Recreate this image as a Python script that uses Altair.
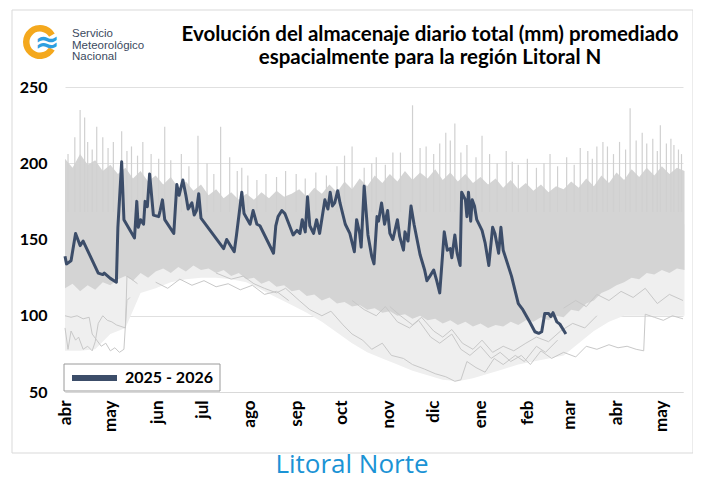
import altair as alt
import pandas as pd

# ---------------- data ----------------
months = ["abr", "may", "jun", "jul", "ago", "sep", "oct", "nov", "dic", "ene", "feb", "mar", "abr", "may"]
month_start = [0, 30, 61, 91, 122, 153, 183, 214, 244, 275, 306, 334, 365, 395]
y_ticks = [50, 100, 150, 200, 250]
series_name = ["2025 - 2026"]

title_lines = ["Evolución del almacenaje diario total (mm) promediado",
               "espacialmente para la región Litoral N"]
logo_lines = ["Servicio", "Meteorológico", "Nacional"]
region_label = "Litoral Norte"

# current season 2025-2026 (day 0 = 1 abr)
blue_day = [0, 1, 4, 7, 10, 12, 22, 25, 26, 30,
            34, 35, 37.5, 39, 46, 47.5, 48.5, 50, 52, 53,
            54.5, 56, 58.5, 62, 63, 64.5, 66, 72, 74, 75.5,
            77, 78, 80, 81.5, 84, 85.5, 87, 88.5, 90, 105,
            107, 112, 113.5, 117, 118.5, 122.5, 124.5, 127, 129, 138,
            139.5, 141, 143.5, 145.5, 151, 153.5, 155.5, 157, 159, 160.5,
            162, 164.5, 166.5, 168.5, 172, 174, 175.5, 177, 178.5, 180.5,
            182, 185.5, 188.5, 191.5, 193, 195, 196, 198, 200.5, 203,
            204.5, 206.5, 207.5, 209.5, 211.5, 213.5, 215, 217, 220, 221.5,
            224, 225, 227, 229, 231, 235, 238, 239.5, 241.5, 244,
            246, 248, 251, 253, 255, 256, 258, 259.5, 261.5, 262.5,
            265, 266, 267, 268.5, 269.5, 271, 272.5, 276, 278, 280.5,
            283, 284.5, 287, 288.5, 290, 295.5, 300, 303, 307.5, 311,
            313.5, 315.5, 317.5, 320, 321.5, 323, 325.5, 327.5, 331.5]
blue_val = [139, 134, 136, 154, 146, 149, 128, 127, 128, 124.5,
            122, 158, 201, 163, 151, 175, 158, 163, 160, 175,
            171.5, 193, 166, 165, 169, 176, 163, 154, 186, 179,
            185, 189, 179, 170, 174, 166, 169, 180, 164, 144,
            150, 142, 153, 181, 167, 160, 169, 160, 159, 141,
            159, 165, 169, 167, 153, 156, 154, 163, 155, 178,
            159, 154, 163, 154, 176, 170, 181, 172, 174, 182,
            174, 160, 154, 142, 163, 154, 145, 185, 153, 139,
            134, 165, 162, 174, 160, 169, 154, 150, 163, 152,
            143, 155, 149, 172, 160, 140, 130, 123, 126, 130,
            123, 115, 155, 143, 144, 138, 153, 141, 133, 181,
            176, 165, 181, 162, 176, 172, 163, 156, 148, 133,
            158, 154, 141, 158, 143, 126, 108, 104, 96, 89.5,
            88.5, 89.5, 101.5, 101.5, 99.5, 102, 96, 94.5, 88]

# dense band of historical years (every 5 days)
core_day = list(range(0, 411, 5))
core_hi = [203, 197, 206, 199, 202, 195,
           199, 193, 197, 190, 195, 188, 192,
           186, 191, 184, 188, 182, 186,
           179, 183, 177, 181, 176, 180,
           176, 181, 177, 182, 178, 180,
           183, 178, 184, 180, 186, 181,
           188, 183, 190, 185, 192, 187,
           193, 188, 195, 189, 194, 190,
           196, 189, 194, 188, 193, 187,
           191, 186, 190, 184, 189, 183, 187,
           182, 186, 181, 185, 183,
           188, 184, 190, 185, 192, 187,
           194, 189, 196, 191, 197, 192,
           198, 193, 197, 195]
core_lo = [118, 121, 116, 120, 117, 122,
           120, 124, 126, 123, 128, 125, 129,
           131, 128, 132, 129, 133, 130,
           131, 128, 130, 126, 128, 124,
           125, 121, 123, 119, 120, 116,
           117, 113, 114, 110, 112, 108,
           109, 106, 107, 104, 105, 102,
           103, 100, 101, 98, 100, 97,
           98, 95, 97, 94, 96, 93,
           95, 92, 94, 93, 96, 94, 97,
           96, 99, 97, 100, 99,
           104, 103, 108, 110, 115, 117,
           120, 122, 125, 124, 128, 127,
           130, 128, 131, 130]

# lowest historical values (every 10 days)
outer_day = list(range(0, 411, 10))
outer_lo = [77, 77, 78, 88, 92, 115, 118, 122, 124, 125,
            125, 124, 122, 117, 112, 107, 102, 96, 89, 82,
            76, 72, 68, 64, 61, 58, 57, 59, 62, 65,
            68, 70, 72, 74, 82, 90, 96, 100, 100, 100,
            100, 100]

# short storm peaks of individual years
spike_day = [2, 6.5, 10, 13, 15, 18, 21, 25, 28.5, 32, 37.5, 41, 44, 48, 51.5, 57, 62, 66, 70, 77,
             82, 88, 94, 98.5, 103, 109, 114, 117, 121, 127, 133, 140, 146, 153, 159, 166, 173, 180,
             185, 190, 198, 203, 206, 212, 217, 222, 230, 235, 239, 244, 248, 252, 255, 258, 262,
             266, 272, 276, 281, 286, 292, 296, 300, 306, 312, 317, 321, 326, 332, 337, 341, 346,
             349, 352, 356, 359, 363, 367, 371, 374, 378, 382, 385, 389, 392, 394, 398, 401, 403,
             406, 408]
spike_top = [206, 217, 235, 230, 214, 209, 224, 217, 210, 214, 221, 208, 211, 205, 214, 206, 203, 224, 202, 206,
             198, 218, 200, 193, 224, 204, 195, 197, 192, 189, 193, 191, 195, 193, 190, 194, 192, 198,
             205, 211, 197, 200, 204, 199, 207, 207, 238, 210, 211, 206, 213, 220, 215, 226, 207,
             212, 204, 218, 206, 200, 208, 201, 199, 203, 197, 200, 206, 198, 204, 199, 210, 208,
             203, 211, 214, 211, 206, 214, 209, 236, 215, 220, 213, 216, 208, 225, 213, 216, 212,
             209, 206]

# individual dry years below the band
dry1_day = [0, 2, 4, 7, 9, 12, 15, 18, 20, 22, 25, 28, 31, 34, 37, 40, 41, 44, 48]
dry1_val = [92, 78, 90, 84, 86, 78, 80, 77, 83, 95, 100, 97, 96, 94, 93, 92, 126, 124, 121]
dry2_day = [0, 4, 8, 12, 16, 18, 21, 24, 27, 30, 33, 36, 39, 41, 43]
dry2_val = [100, 99, 100, 98, 99, 88, 84, 80, 82, 77, 79, 76, 78, 110, 112]
dry3_day = [100, 110, 118, 125, 132, 140, 146, 155, 162, 170, 176, 184, 190, 197, 203, 210, 216,
            224, 230, 238, 245, 252, 258, 262, 266, 272, 278, 284, 290, 298, 304, 312, 318, 326]
dry3_val = [128, 124, 126, 121, 118, 115, 118, 110, 104, 100, 103, 94, 88, 84, 78, 82, 74,
            72, 68, 65, 62, 60, 57, 58, 70, 66, 63, 72, 68, 74, 70, 80, 76, 84]
dry4_day = [190, 198, 206, 212, 220, 228, 234, 242, 248, 256, 262, 268, 275, 282, 288, 295, 302,
            308, 315, 322, 330, 338, 345, 352, 360, 366, 372, 378, 383, 384, 390, 396, 402, 409]
dry4_val = [110, 104, 100, 106, 96, 92, 97, 86, 82, 88, 78, 74, 80, 72, 76, 70, 74,
            68, 77, 72, 76, 73, 80, 78, 81, 79, 80, 78, 77, 101, 99, 97, 100, 98]
dry5_day = [215, 222, 230, 236, 244, 250, 256, 263, 270, 276, 283, 290, 297, 305, 312, 320, 328, 336, 344, 352]
dry5_val = [106, 100, 94, 99, 90, 86, 91, 82, 78, 84, 76, 80, 77, 82, 86, 83, 90, 95, 92, 100]
dry6_day = [330, 338, 345, 352, 360, 368, 376, 384, 392, 400, 409]
dry6_val = [105, 110, 106, 114, 110, 116, 112, 118, 108, 114, 110]
dry7_day = [60, 68, 76, 84, 92, 100, 108, 116, 124, 132, 140, 148]
dry7_val = [122, 118, 124, 120, 123, 119, 121, 117, 120, 114, 116, 110]

# ---------------- frames ----------------
blue_df = pd.DataFrame({"day": blue_day, "val": blue_val, "serie": series_name[0]})
core_df = pd.DataFrame({"day": core_day, "lo": core_lo, "hi": core_hi})
outer_df = pd.DataFrame({"day": outer_day, "lo": outer_lo})
spike_df = pd.DataFrame({"day": spike_day, "top": spike_top})
dry_parts = []
for i, (d, v) in enumerate([(dry1_day, dry1_val), (dry2_day, dry2_val), (dry3_day, dry3_val),
                            (dry4_day, dry4_val), (dry5_day, dry5_val), (dry6_day, dry6_val),
                            (dry7_day, dry7_val)]):
    dry_parts.append(pd.DataFrame({"day": d, "val": v, "id": i}))
dry_df = pd.concat(dry_parts, ignore_index=True)
one = pd.DataFrame({"k": [0]})

# ---------------- scales / axes ----------------
BOLD = "Lato"
xs = alt.Scale(domain=[0, 409], nice=False, zero=False)
ys = alt.Scale(domain=[50, 250], nice=False, zero=False)
label_expr = "%s[indexof(%s, datum.value)]" % (str(months), str(month_start))
x_axis = alt.Axis(values=month_start, labelExpr=label_expr, labelAngle=270, labelAlign="right",
                  labelBaseline="middle", labelPadding=8, labelFont=BOLD, labelFontWeight="bold",
                  labelFontSize=17, labelColor="black", ticks=False, grid=False,
                  domainColor="#d9d9d9", title=None, labelOverlap=False)
y_axis = alt.Axis(values=y_ticks, grid=True, gridColor="#e0e0e0", domain=False, ticks=False,
                  labelPadding=18, labelFont=BOLD, labelFontWeight="bold", labelFontSize=16,
                  labelColor="black", title=None)

GREY = "#d4d4d4"
BLUE = "#3c4d69"

border = alt.Chart(one).mark_rect(fillOpacity=0, stroke="#d9d9d9", strokeWidth=1).encode(
    x=alt.value(-53), x2=alt.value(628), y=alt.value(-77), y2=alt.value(366))

outer = alt.Chart(outer_df).mark_area(color="#efefef").encode(
    x=alt.X("day:Q", scale=xs, axis=x_axis),
    y=alt.Y("lo:Q", scale=ys, axis=y_axis),
    y2=alt.datum(160))

core = alt.Chart(core_df).mark_area(color=GREY).encode(
    x=alt.X("day:Q", scale=xs), y=alt.Y("lo:Q", scale=ys), y2="hi:Q")

spikes = alt.Chart(spike_df).mark_rule(color="#d0d0d0", strokeWidth=1.2).encode(
    x=alt.X("day:Q", scale=xs), y=alt.Y("top:Q", scale=ys), y2=alt.datum(168))

dry = alt.Chart(dry_df).mark_line(color="#c8c8c8", strokeWidth=1).encode(
    x=alt.X("day:Q", scale=xs), y=alt.Y("val:Q", scale=ys), detail="id:N")

blue = alt.Chart(blue_df).mark_line(color=BLUE, strokeWidth=3, strokeJoin="round").encode(
    x=alt.X("day:Q", scale=xs), y=alt.Y("val:Q", scale=ys))

leg_box = alt.Chart(one).mark_rect(fill="white", stroke="#9a9a9a", strokeWidth=1).encode(
    x=alt.value(-1), x2=alt.value(155), y=alt.value(277), y2=alt.value(304))
leg_sw = alt.Chart(one).mark_rule(color=BLUE, strokeWidth=6).encode(
    x=alt.value(7), x2=alt.value(52), y=alt.value(291))
leg_tx = alt.Chart(one).mark_text(align="left", baseline="middle", font=BOLD, fontWeight="bold",
                                  fontSize=16, color="black").encode(
    x=alt.value(60), y=alt.value(291), text=alt.value(series_name[0]))

ring = alt.Chart(one).mark_arc(radius=17, radius2=10.5, theta=2.1, theta2=7.33, color="#f4a81d").encode(
    x=alt.value(-25), y=alt.value(-45))
waves = alt.Chart(one).mark_text(align="center", baseline="middle", font="DejaVu Sans",
                                 fontWeight="bold", fontSize=30, color="#2f9fe0").encode(
    x=alt.value(-18), y=alt.value(-44), text=alt.value("≈"))
logo_layers = []
for j, line in enumerate(logo_lines):
    logo_layers.append(
        alt.Chart(one).mark_text(align="left", baseline="alphabetic", font="Liberation Sans",
                                 fontSize=11.5, color="#3b4a5e").encode(
            x=alt.value(7), y=alt.value(-50 + 11.5 * j), text=alt.value(line)))

title_layers = []
for j, line in enumerate(title_lines):
    title_layers.append(
        alt.Chart(one).mark_text(align="center", baseline="alphabetic", font=BOLD, fontWeight="bold",
                                 fontSize=20.5, color="black").encode(
            x=alt.value(365), y=alt.value(-46 + 23 * j), text=alt.value(line)))

region = alt.Chart(one).mark_text(align="center", baseline="alphabetic", font="Open Sans",
                                  fontSize=26, color="#1b93d5").encode(
    x=alt.value(287), y=alt.value(386), text=alt.value(region_label))

chart = alt.layer(border, outer, core, spikes, dry, blue, leg_box, leg_sw, leg_tx,
                  ring, waves, *logo_layers, *title_layers, region).properties(
    width=618, height=305,
    padding={"left": 57, "top": 79, "right": 10, "bottom": 88},
    autosize=alt.AutoSizeParams(type="none"),
).configure_view(stroke=None)

chart.save("out.html", embed_options={"renderer": "svg", "actions": False})
